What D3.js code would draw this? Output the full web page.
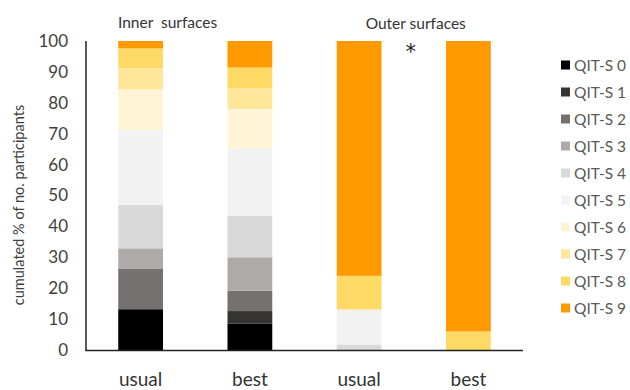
<!DOCTYPE html>
<html>
<head>
<meta charset="utf-8">
<script src="https://cdn.jsdelivr.net/npm/d3@7"></script>
<style>
  html, body { margin: 0; padding: 0; background: #fff; }
  svg { display: block; font-family: Lato, "Open Sans", sans-serif; }
</style>
</head>
<body>
<svg id="chart" width="630" height="390"></svg>
<script>
// Bars: surface type x condition
const categories = ["Inner usual", "Inner best", "Outer usual", "Outer best"];
const barLabels = ["usual", "best", "usual", "best"];
const groupTitles = ["Inner  surfaces", "Outer surfaces"];

// Share of participants (%) at each QIT-S level, one entry per bar
const levels = ["QIT-S 0", "QIT-S 1", "QIT-S 2", "QIT-S 3", "QIT-S 4",
                "QIT-S 5", "QIT-S 6", "QIT-S 7", "QIT-S 8", "QIT-S 9"];
const qit0 = [13.2, 8.6, 0, 0];
const qit1 = [0, 4.0, 0, 0];
const qit2 = [13.2, 6.6, 0, 0];
const qit3 = [6.5, 10.8, 0, 0];
const qit4 = [14.0, 13.4, 1.8, 0];
const qit5 = [24.3, 21.9, 11.3, 0];
const qit6 = [13.2, 12.7, 0, 0];
const qit7 = [6.8, 6.7, 0, 0];
const qit8 = [6.4, 6.7, 10.9, 6.0];
const qit9 = [2.4, 8.6, 76.0, 94.0];
const yTicks = [0, 10, 20, 30, 40, 50, 60, 70, 80, 90, 100];

const series = [qit0, qit1, qit2, qit3, qit4, qit5, qit6, qit7, qit8, qit9];
const colors = ["#000000", "#363333", "#767171", "#aeaaaa", "#d9d9d9",
                "#f2f2f2", "#fff5d6", "#ffe699", "#ffd966", "#ff9900"];

const rows = categories.map((c, i) => {
  const r = { cat: c };
  levels.forEach((l, k) => { r[l] = series[k][i]; });
  return r;
});

const svg = d3.select("#chart");
const x = d3.scaleBand().domain(categories).range([86, 523]).paddingInner(0.59).paddingOuter(0.295);
const y = d3.scaleLinear().domain([0, 100]).range([350, 41]);
const color = d3.scaleOrdinal().domain(levels).range(colors);

const stacked = d3.stack().keys(levels)(rows);

// Stacked bars
svg.append("g").selectAll("g").data(stacked).join("g")
  .attr("fill", d => color(d.key))
  .selectAll("rect").data(d => d).join("rect")
  .attr("x", d => x(d.data.cat))
  .attr("width", x.bandwidth())
  .attr("y", d => y(d[1]))
  .attr("height", d => y(d[0]) - y(d[1]));

// Y axis labels (no tick marks)
const yAxis = svg.append("g").attr("transform", "translate(86,0)")
  .call(d3.axisLeft(y).tickValues(yTicks).tickSize(0).tickPadding(18));
yAxis.select(".domain").remove();
yAxis.selectAll("text").attr("font-size", 17).attr("fill", "#404040")
  .attr("font-family", "Lato, sans-serif");

// Axis lines
svg.append("line").attr("x1", 86).attr("x2", 86).attr("y1", y(100)).attr("y2", y(0) + 0.5)
  .attr("stroke", "#222").attr("stroke-width", 1.5);
svg.append("line").attr("x1", 85.25).attr("x2", 523).attr("y1", y(0) + 0.5).attr("y2", y(0) + 0.5)
  .attr("stroke", "#222").attr("stroke-width", 1.5);

// Category labels under bars
svg.append("g").selectAll("text").data(categories).join("text")
  .attr("x", d => x(d) + x.bandwidth() / 2)
  .attr("y", 386)
  .attr("text-anchor", "middle")
  .attr("font-size", 19)
  .attr("fill", "#333")
  .text((d, i) => barLabels[i]);

// Group titles
svg.append("text").attr("x", 118).attr("y", 28).attr("font-size", 15.5).attr("fill", "#333")
  .attr("xml:space", "preserve").style("white-space", "pre").text(groupTitles[0]);
svg.append("text").attr("x", (x(categories[2]) + x(categories[3]) + x.bandwidth()) / 2 + 2)
  .attr("y", 29).attr("text-anchor", "middle").attr("font-size", 15.5).attr("fill", "#333")
  .text(groupTitles[1]);

// Significance marker
svg.append("text").attr("x", (x(categories[2]) + x(categories[3]) + x.bandwidth()) / 2 - 3)
  .attr("y", 59).attr("text-anchor", "middle").attr("font-size", 21)
  .attr("font-family", "DejaVu Sans, sans-serif").attr("fill", "#222")
  .text("*");

// Y axis title
svg.append("text")
  .attr("transform", "translate(24,205) rotate(-90)")
  .attr("text-anchor", "middle").attr("font-size", 14.5).attr("fill", "#404040")
  .text("cumulated % of no. participants");

// Legend
const legend = svg.append("g").selectAll("g").data(levels).join("g")
  .attr("transform", (d, i) => `translate(561,${65 + i * 27})`);
legend.append("rect").attr("x", 0).attr("y", -4.5).attr("width", 9).attr("height", 9)
  .attr("fill", d => color(d));
legend.append("text").attr("x", 13).attr("y", 5.5).attr("font-size", 15.5).attr("fill", "#595959")
  .text(d => d);
</script>
</body>
</html>
